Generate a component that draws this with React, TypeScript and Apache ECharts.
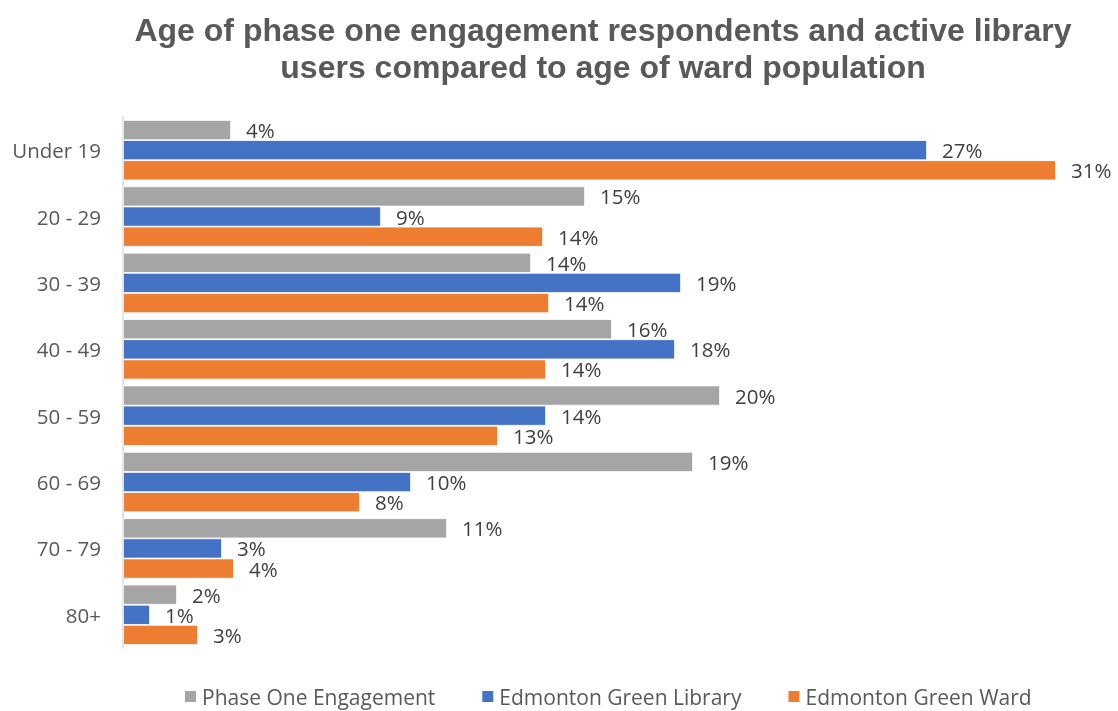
import React, { useEffect, useRef } from "react";
import * as echarts from "echarts";

const categories = ["Under 19", "20 - 29", "30 - 39", "40 - 49", "50 - 59", "60 - 69", "70 - 79", "80+"];
const seriesNames = ["Phase One Engagement", "Edmonton Green Library", "Edmonton Green Ward"];
const phaseOne = [3.6, 15.4, 13.6, 16.3, 19.9, 19.0, 10.8, 1.8];
const library = [26.8, 8.6, 18.6, 18.4, 14.1, 9.6, 3.3, 0.9];
const ward = [31.1, 14.0, 14.2, 14.1, 12.5, 7.9, 3.7, 2.5];
const colors = ["#A5A5A5", "#4472C4", "#ED7D31"];

export default function App() {
  const ref = useRef<HTMLDivElement>(null);
  useEffect(() => {
    if (!ref.current) return;
    const chart = echarts.init(ref.current, null, { renderer: "svg" });
    const data = [phaseOne, library, ward];
    chart.setOption({
      animation: false,
      title: {
        text: "Age of phase one engagement respondents and active library\nusers compared to age of ward population",
        left: 598,
        textAlign: "center",
        top: 6,
        textStyle: {
          fontFamily: "Liberation Sans, Arial, sans-serif",
          fontWeight: "bold",
          fontSize: 32,
          lineHeight: 37,
          color: "#595959",
        },
      },
      legend: {
        top: 681,
        left: 178,
        icon: "rect",
        itemWidth: 13,
        itemHeight: 13,
        itemGap: 45,
        textStyle: { fontFamily: "Open Sans, sans-serif", fontSize: 21, color: "#595959" },
        data: seriesNames,
      },
      grid: { left: 123, top: 117, width: 960, height: 531, containLabel: false },
      xAxis: {
        type: "value",
        min: 0,
        max: 32,
        show: false,
        splitLine: { show: false },
      },
      yAxis: {
        type: "category",
        inverse: true,
        data: categories,
        axisTick: { show: false },
        axisLine: { show: true, lineStyle: { color: "#D9D9D9", width: 1.5 } },
        axisLabel: { fontFamily: "Open Sans, sans-serif", fontSize: 20.5, color: "#595959", margin: 22 },
      },
      series: seriesNames.map((name, i) => ({
        name,
        type: "bar",
        data: data[i],
        barGap: "0%",
        barCategoryGap: "9%",
        itemStyle: { color: colors[i], borderColor: "#ffffff", borderWidth: 0.8 },
        label: {
          show: true,
          position: "right",
          distance: 15,
          fontFamily: "Open Sans, sans-serif",
          fontSize: 20.5,
          color: "#404040",
          formatter: (p: any) => Math.round(p.value) + "%",
        },
      })),
    });
    return () => chart.dispose();
  }, []);
  return <div ref={ref} style={{ position: "fixed", left: 0, top: 0, width: 1118, height: 711 }} />;
}
